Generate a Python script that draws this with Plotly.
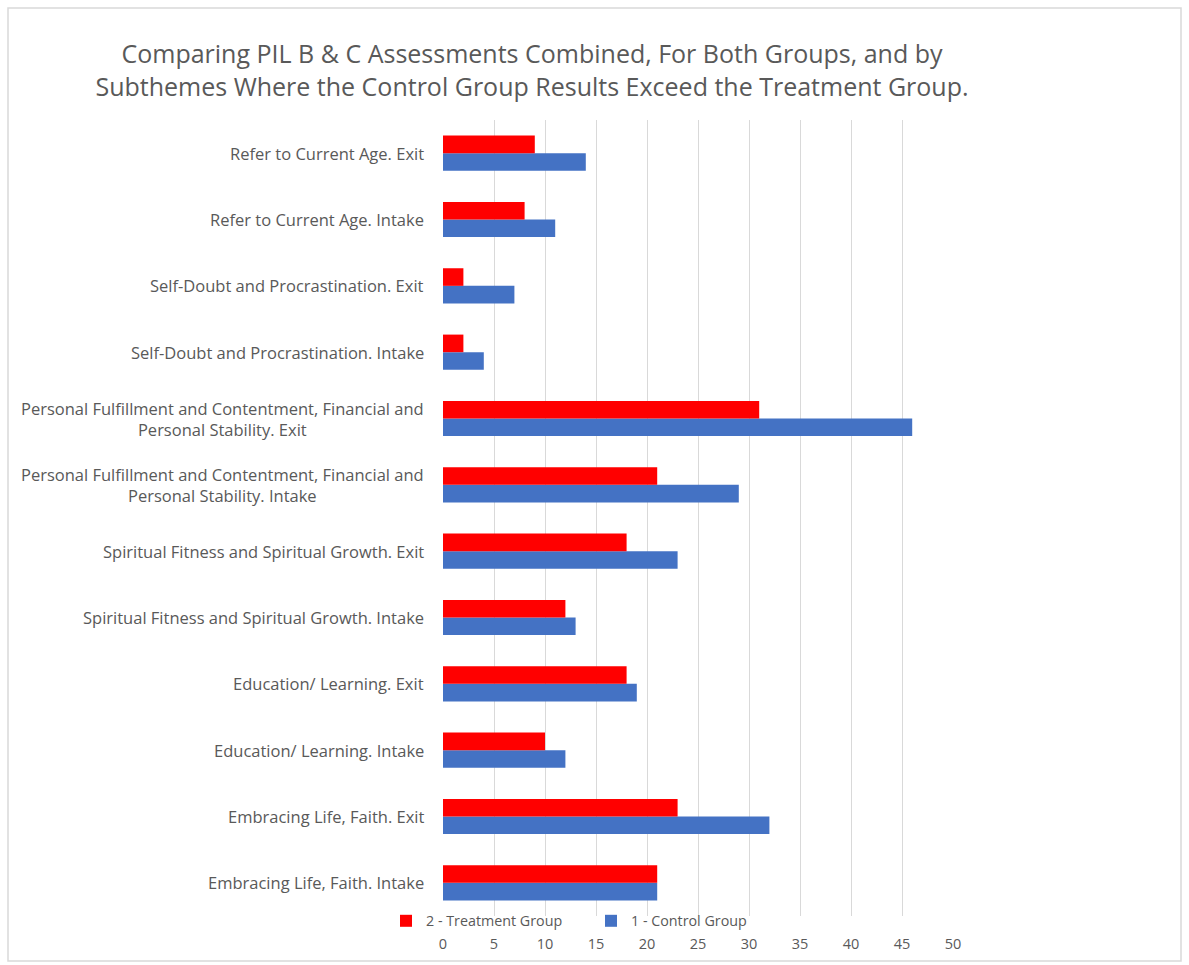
import plotly.graph_objects as go

# Categories listed bottom -> top
categories = [
    "Embracing Life, Faith. Intake",
    "Embracing Life, Faith. Exit",
    "Education/ Learning. Intake",
    "Education/ Learning. Exit",
    "Spiritual Fitness and Spiritual Growth. Intake",
    "Spiritual Fitness and Spiritual Growth. Exit",
    "Personal Fulfillment and Contentment, Financial and<br>Personal Stability. Intake",
    "Personal Fulfillment and Contentment, Financial and<br>Personal Stability. Exit",
    "Self-Doubt and Procrastination. Intake",
    "Self-Doubt and Procrastination. Exit",
    "Refer to Current Age. Intake",
    "Refer to Current Age. Exit",
]
control = [21, 32, 12, 19, 13, 23, 29, 46, 4, 7, 11, 14]
treatment = [21, 23, 10, 18, 12, 18, 21, 31, 2, 2, 8, 9]
x_ticks = [0, 5, 10, 15, 20, 25, 30, 35, 40, 45, 50]

title_text = ("Comparing PIL B & C Assessments Combined, For Both Groups, and by<br>"
              "Subthemes Where the Control Group Results Exceed the Treatment Group.")

FONT = "Open Sans, Liberation Sans, sans-serif"
GRAY = "#595959"

W, H = 1189, 965
ML, MR, MT, MB = 443, 236, 120, 49

fig = go.Figure()
fig.add_trace(go.Bar(
    y=categories, x=control, orientation="h", name="1 - Control Group",
    marker=dict(color="#4472C4", line=dict(width=0)),
))
fig.add_trace(go.Bar(
    y=categories, x=treatment, orientation="h", name="2 - Treatment Group",
    marker=dict(color="#FF0000", line=dict(width=0)),
))

annotations = []
for c in categories:
    annotations.append(dict(
        x=0, xref="paper", y=c, yref="y", text=c, showarrow=False,
        xanchor="right", yanchor="middle", align="center", xshift=-17,
        font=dict(family=FONT, size=16.5, color=GRAY),
    ))

pw = W - ML - MR
ph = H - MT - MB
# outer chart frame
shapes = [dict(
    type="rect", xref="paper", yref="paper",
    x0=(8 - ML) / pw, x1=(1181 - ML) / pw,
    y0=(H - MB - 961) / ph, y1=(H - MB - 8) / ph,
    line=dict(color="#D9D9D9", width=1.5), fillcolor="rgba(0,0,0,0)", layer="below",
)]

fig.update_layout(
    width=W, height=H,
    margin=dict(l=ML, r=MR, t=MT, b=MB),
    paper_bgcolor="white", plot_bgcolor="white",
    barmode="group", bargap=0.47, bargroupgap=0,
    title=dict(text=title_text, x=532 / W, xanchor="center", y=1 - 63 / H, yanchor="middle",
               font=dict(family=FONT, size=25, color=GRAY)),
    font=dict(family=FONT, color=GRAY),
    xaxis=dict(range=[0, 50], tickvals=x_ticks, showgrid=True, gridcolor="#D9D9D9", gridwidth=1,
               zeroline=False, showline=False, ticks="", ticklabelstandoff=17,
               tickfont=dict(family=FONT, size=14.5, color=GRAY)),
    yaxis=dict(showticklabels=False, showgrid=False, zeroline=False, showline=False, ticks=""),
    legend=dict(orientation="h", traceorder="reversed", x=(386 - ML) / pw, xanchor="left",
                y=-5 / ph, yanchor="middle", font=dict(family=FONT, size=14.3, color=GRAY),
                bgcolor="rgba(0,0,0,0)", itemwidth=30, entrywidth=160, entrywidthmode="pixels"),
    annotations=annotations,
    shapes=shapes,
)

fig.write_html("out.html")
